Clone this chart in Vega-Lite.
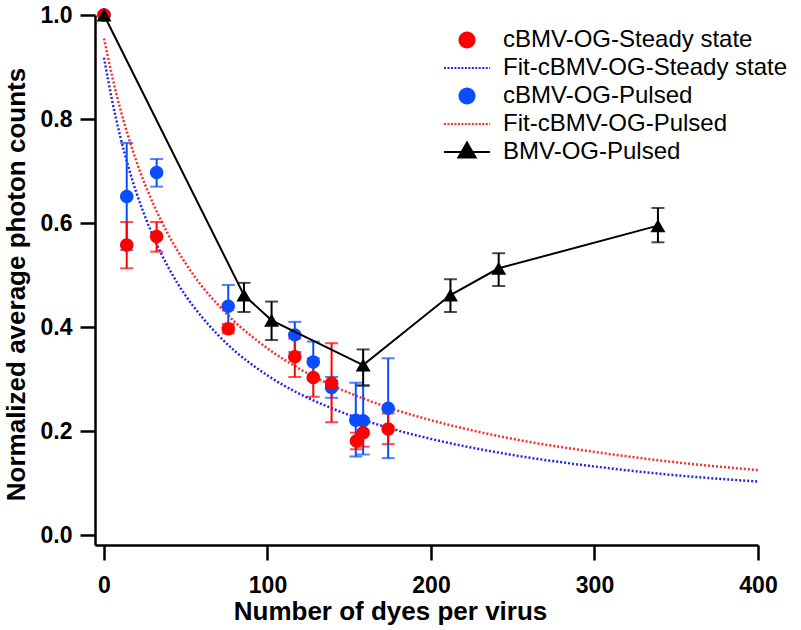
{
  "$schema": "https://vega.github.io/schema/vega-lite/v6.json",
  "width": 663,
  "height": 530,
  "autosize": {"type": "none"},
  "padding": {"left": 95, "top": 15, "right": 43, "bottom": 85},
  "background": "white",
  "config": {
    "view": {"stroke": null},
    "font": "Liberation Sans",
    "axis": {
      "grid": false,
      "domainColor": "black",
      "domainWidth": 2.5,
      "tickColor": "black",
      "tickWidth": 2.5,
      "tickSize": 15,
      "labelFont": "Liberation Sans",
      "labelFontWeight": "bold",
      "labelFontSize": 23,
      "labelColor": "black",
      "labelFlush": false,
      "labelOverlap": false,
      "titleFont": "Liberation Sans",
      "titleFontWeight": "bold",
      "titleFontSize": 26,
      "titleColor": "black"
    }
  },
  "datasets": {
    "fits": [
      {"series": "Fit-cBMV-OG-Steady state", "d": 0, "v": 0.918},
      {"series": "Fit-cBMV-OG-Steady state", "d": 5, "v": 0.835},
      {"series": "Fit-cBMV-OG-Steady state", "d": 10, "v": 0.766},
      {"series": "Fit-cBMV-OG-Steady state", "d": 15, "v": 0.707},
      {"series": "Fit-cBMV-OG-Steady state", "d": 20, "v": 0.657},
      {"series": "Fit-cBMV-OG-Steady state", "d": 30, "v": 0.575},
      {"series": "Fit-cBMV-OG-Steady state", "d": 40, "v": 0.511},
      {"series": "Fit-cBMV-OG-Steady state", "d": 50, "v": 0.46},
      {"series": "Fit-cBMV-OG-Steady state", "d": 60, "v": 0.419},
      {"series": "Fit-cBMV-OG-Steady state", "d": 70, "v": 0.384},
      {"series": "Fit-cBMV-OG-Steady state", "d": 80, "v": 0.354},
      {"series": "Fit-cBMV-OG-Steady state", "d": 90, "v": 0.329},
      {"series": "Fit-cBMV-OG-Steady state", "d": 100, "v": 0.307},
      {"series": "Fit-cBMV-OG-Steady state", "d": 120, "v": 0.271},
      {"series": "Fit-cBMV-OG-Steady state", "d": 140, "v": 0.243},
      {"series": "Fit-cBMV-OG-Steady state", "d": 160, "v": 0.22},
      {"series": "Fit-cBMV-OG-Steady state", "d": 180, "v": 0.201},
      {"series": "Fit-cBMV-OG-Steady state", "d": 200, "v": 0.185},
      {"series": "Fit-cBMV-OG-Steady state", "d": 250, "v": 0.154},
      {"series": "Fit-cBMV-OG-Steady state", "d": 300, "v": 0.132},
      {"series": "Fit-cBMV-OG-Steady state", "d": 350, "v": 0.115},
      {"series": "Fit-cBMV-OG-Steady state", "d": 400, "v": 0.103},
      {"series": "Fit-cBMV-OG-Pulsed", "d": 0, "v": 0.955},
      {"series": "Fit-cBMV-OG-Pulsed", "d": 5, "v": 0.882},
      {"series": "Fit-cBMV-OG-Pulsed", "d": 10, "v": 0.819},
      {"series": "Fit-cBMV-OG-Pulsed", "d": 15, "v": 0.765},
      {"series": "Fit-cBMV-OG-Pulsed", "d": 20, "v": 0.717},
      {"series": "Fit-cBMV-OG-Pulsed", "d": 30, "v": 0.638},
      {"series": "Fit-cBMV-OG-Pulsed", "d": 40, "v": 0.574},
      {"series": "Fit-cBMV-OG-Pulsed", "d": 50, "v": 0.522},
      {"series": "Fit-cBMV-OG-Pulsed", "d": 60, "v": 0.478},
      {"series": "Fit-cBMV-OG-Pulsed", "d": 70, "v": 0.442},
      {"series": "Fit-cBMV-OG-Pulsed", "d": 80, "v": 0.41},
      {"series": "Fit-cBMV-OG-Pulsed", "d": 90, "v": 0.383},
      {"series": "Fit-cBMV-OG-Pulsed", "d": 100, "v": 0.359},
      {"series": "Fit-cBMV-OG-Pulsed", "d": 120, "v": 0.319},
      {"series": "Fit-cBMV-OG-Pulsed", "d": 140, "v": 0.287},
      {"series": "Fit-cBMV-OG-Pulsed", "d": 160, "v": 0.261},
      {"series": "Fit-cBMV-OG-Pulsed", "d": 180, "v": 0.239},
      {"series": "Fit-cBMV-OG-Pulsed", "d": 200, "v": 0.221},
      {"series": "Fit-cBMV-OG-Pulsed", "d": 250, "v": 0.185},
      {"series": "Fit-cBMV-OG-Pulsed", "d": 300, "v": 0.16},
      {"series": "Fit-cBMV-OG-Pulsed", "d": 350, "v": 0.14},
      {"series": "Fit-cBMV-OG-Pulsed", "d": 400, "v": 0.125}
    ],
    "pts": [
      {"series": "cBMV-OG-Pulsed", "d": 0, "v": 1.0, "lo": null, "hi": null},
      {"series": "cBMV-OG-Pulsed", "d": 13.9, "v": 0.651, "lo": 0.548, "hi": 0.754},
      {"series": "cBMV-OG-Pulsed", "d": 32.2, "v": 0.697, "lo": 0.67, "hi": 0.723},
      {"series": "cBMV-OG-Pulsed", "d": 76, "v": 0.44, "lo": 0.399, "hi": 0.481},
      {"series": "cBMV-OG-Pulsed", "d": 116.7, "v": 0.385, "lo": 0.352, "hi": 0.41},
      {"series": "cBMV-OG-Pulsed", "d": 128, "v": 0.333, "lo": 0.298, "hi": 0.372},
      {"series": "cBMV-OG-Pulsed", "d": 139.2, "v": 0.284, "lo": 0.264, "hi": 0.304},
      {"series": "cBMV-OG-Pulsed", "d": 154, "v": 0.221, "lo": 0.151, "hi": 0.293},
      {"series": "cBMV-OG-Pulsed", "d": 158.5, "v": 0.22, "lo": 0.155, "hi": 0.287},
      {"series": "cBMV-OG-Pulsed", "d": 173.8, "v": 0.244, "lo": 0.148, "hi": 0.34},
      {"series": "cBMV-OG-Steady state", "d": 0, "v": 1.0, "lo": null, "hi": null},
      {"series": "cBMV-OG-Steady state", "d": 13.9, "v": 0.558, "lo": 0.513, "hi": 0.602},
      {"series": "cBMV-OG-Steady state", "d": 32.2, "v": 0.574, "lo": 0.545, "hi": 0.602},
      {"series": "cBMV-OG-Steady state", "d": 76, "v": 0.397, "lo": 0.388, "hi": 0.406},
      {"series": "cBMV-OG-Steady state", "d": 116.7, "v": 0.343, "lo": 0.304, "hi": 0.378},
      {"series": "cBMV-OG-Steady state", "d": 128, "v": 0.303, "lo": 0.266, "hi": 0.34},
      {"series": "cBMV-OG-Steady state", "d": 139.2, "v": 0.292, "lo": 0.217, "hi": 0.369},
      {"series": "cBMV-OG-Steady state", "d": 154.4, "v": 0.181, "lo": 0.165, "hi": 0.197},
      {"series": "cBMV-OG-Steady state", "d": 158.5, "v": 0.197, "lo": 0.17, "hi": 0.224},
      {"series": "cBMV-OG-Steady state", "d": 173.8, "v": 0.204, "lo": 0.175, "hi": 0.234}
    ],
    "bmv": [
      {"series": "BMV-OG-Pulsed", "d": 0, "v": 1.0, "lo": null, "hi": null},
      {"series": "BMV-OG-Pulsed", "d": 85.6, "v": 0.4615, "lo": 0.429, "hi": 0.485},
      {"series": "BMV-OG-Pulsed", "d": 102.5, "v": 0.413, "lo": 0.375, "hi": 0.449},
      {"series": "BMV-OG-Pulsed", "d": 158.5, "v": 0.327, "lo": 0.288, "hi": 0.357},
      {"series": "BMV-OG-Pulsed", "d": 211.9, "v": 0.4615, "lo": 0.429, "hi": 0.492},
      {"series": "BMV-OG-Pulsed", "d": 241.4, "v": 0.513, "lo": 0.479, "hi": 0.542},
      {"series": "BMV-OG-Pulsed", "d": 338.8, "v": 0.595, "lo": 0.563, "hi": 0.629}
    ]
  },
  "layer": [
    {
      "data": {"name": "fits"},
      "mark": {"type": "line", "strokeDash": [2, 2], "strokeWidth": 2.5, "interpolate": "monotone", "clip": true},
      "encoding": {
        "x": {
          "field": "d", "type": "quantitative", "title": "Number of dyes per virus",
          "scale": {"domain": [-5.5, 400], "nice": false, "zero": false},
          "axis": {
            "values": [0, 100, 200, 300, 400], "format": "d", "labelPadding": 14,
            "titleX": 295, "titleY": 74,
            "titleAlign": "center", "titleBaseline": "alphabetic", "titleAnchor": null
          }
        },
        "y": {
          "field": "v", "type": "quantitative", "title": "Normalized average photon counts",
          "scale": {"domain": [-0.019, 1.0], "nice": false, "zero": false},
          "axis": {
            "values": [0, 0.2, 0.4, 0.6, 0.8, 1.0], "format": ".1f", "labelPadding": 8,
            "titleAngle": -90,
            "titleX": -71, "titleY": 269, "titleAlign": "center", "titleBaseline": "alphabetic", "titleAnchor": null
          }
        },
        "color": {
          "field": "series", "type": "nominal",
          "scale": {
            "domain": ["cBMV-OG-Steady state", "Fit-cBMV-OG-Steady state", "cBMV-OG-Pulsed", "Fit-cBMV-OG-Pulsed", "BMV-OG-Pulsed"],
            "range": ["#ff0000", "#2626e6", "#0a4dff", "#ff2a2a", "#000000"]
          },
          "legend": {
            "orient": "none", "legendX": 360, "legendY": 13, "title": null,
            "labelFont": "Liberation Sans", "labelFontSize": 24, "labelColor": "black",
            "symbolSize": 576, "rowPadding": 4, "labelOffset": 24, "padding": 0, "offset": 0,
            "labelLimit": 400,
            "encode": {
              "symbols": {
                "update": {
                  "shape": {"scale": "shape", "field": "value"},
                  "fill": {"scale": "color", "field": "value"},
                  "stroke": {"value": "transparent"},
                  "strokeWidth": {"value": 0},
                  "strokeDash": {"value": []},
                  "opacity": {"value": 1},
                  "fillOpacity": {"value": 1},
                  "size": {"value": 576}
                }
              }
            }
          }
        },
        "detail": {"field": "series"}
      }
    },
    {
      "data": {"name": "pts"},
      "transform": [{"filter": "datum.lo != null"}],
      "mark": {"type": "errorbar", "ticks": {"size": 13}, "thickness": 2},
      "encoding": {
        "x": {"field": "d", "type": "quantitative", "title": "Number of dyes per virus"},
        "y": {"field": "lo", "type": "quantitative", "title": "Normalized average photon counts"},
        "y2": {"field": "hi"},
        "color": {"field": "series", "type": "nominal"}
      }
    },
    {
      "data": {"name": "pts"},
      "mark": {"type": "point", "filled": true, "size": 361, "opacity": 1},
      "encoding": {
        "x": {"field": "d", "type": "quantitative", "title": "Number of dyes per virus"},
        "y": {"field": "v", "type": "quantitative", "title": "Normalized average photon counts"},
        "color": {"field": "series", "type": "nominal"},
        "shape": {
          "field": "series", "type": "nominal",
          "scale": {
            "domain": ["cBMV-OG-Steady state", "Fit-cBMV-OG-Steady state", "cBMV-OG-Pulsed", "Fit-cBMV-OG-Pulsed", "BMV-OG-Pulsed"],
            "range": [
              "M-0.71,0A0.71,0.71 0 1,0 0.71,0A0.71,0.71 0 1,0 -0.71,0Z",
              "M-1.92,-0.085h0.17v0.17h-0.17zM-1.63,-0.085h0.17v0.17h-0.17zM-1.34,-0.085h0.17v0.17h-0.17zM-1.05,-0.085h0.17v0.17h-0.17zM-0.76,-0.085h0.17v0.17h-0.17zM-0.47,-0.085h0.17v0.17h-0.17zM-0.18,-0.085h0.17v0.17h-0.17zM0.11,-0.085h0.17v0.17h-0.17zM0.4,-0.085h0.17v0.17h-0.17zM0.69,-0.085h0.17v0.17h-0.17zM0.98,-0.085h0.17v0.17h-0.17zM1.27,-0.085h0.17v0.17h-0.17zM1.56,-0.085h0.17v0.17h-0.17zM1.85,-0.085h0.07v0.17h-0.07z",
              "M-0.71,0A0.71,0.71 0 1,0 0.71,0A0.71,0.71 0 1,0 -0.71,0Z",
              "M-1.92,-0.085h0.17v0.17h-0.17zM-1.63,-0.085h0.17v0.17h-0.17zM-1.34,-0.085h0.17v0.17h-0.17zM-1.05,-0.085h0.17v0.17h-0.17zM-0.76,-0.085h0.17v0.17h-0.17zM-0.47,-0.085h0.17v0.17h-0.17zM-0.18,-0.085h0.17v0.17h-0.17zM0.11,-0.085h0.17v0.17h-0.17zM0.4,-0.085h0.17v0.17h-0.17zM0.69,-0.085h0.17v0.17h-0.17zM0.98,-0.085h0.17v0.17h-0.17zM1.27,-0.085h0.17v0.17h-0.17zM1.56,-0.085h0.17v0.17h-0.17zM1.85,-0.085h0.07v0.17h-0.07z",
              "M-1.92,-0.08H1.92V0.08H-1.92ZM0,-0.95L0.86,0.55L-0.86,0.55Z"
            ]
          },
          "legend": null
        }
      }
    },
    {
      "data": {"name": "bmv"},
      "transform": [{"filter": "datum.lo != null"}],
      "mark": {"type": "errorbar", "ticks": {"size": 13}, "thickness": 2},
      "encoding": {
        "x": {"field": "d", "type": "quantitative", "title": "Number of dyes per virus"},
        "y": {"field": "lo", "type": "quantitative", "title": "Normalized average photon counts"},
        "y2": {"field": "hi"},
        "color": {"field": "series", "type": "nominal"}
      }
    },
    {
      "data": {"name": "bmv"},
      "mark": {"type": "line", "strokeWidth": 2},
      "encoding": {
        "x": {"field": "d", "type": "quantitative", "title": "Number of dyes per virus"},
        "y": {"field": "v", "type": "quantitative", "title": "Normalized average photon counts"},
        "color": {"field": "series", "type": "nominal"}
      }
    },
    {
      "data": {"name": "bmv"},
      "mark": {"type": "point", "shape": "triangle-up", "filled": true, "size": 225, "color": "black", "opacity": 1},
      "encoding": {
        "x": {"field": "d", "type": "quantitative", "title": "Number of dyes per virus"},
        "y": {"field": "v", "type": "quantitative", "title": "Normalized average photon counts"}
      }
    }
  ]
}
